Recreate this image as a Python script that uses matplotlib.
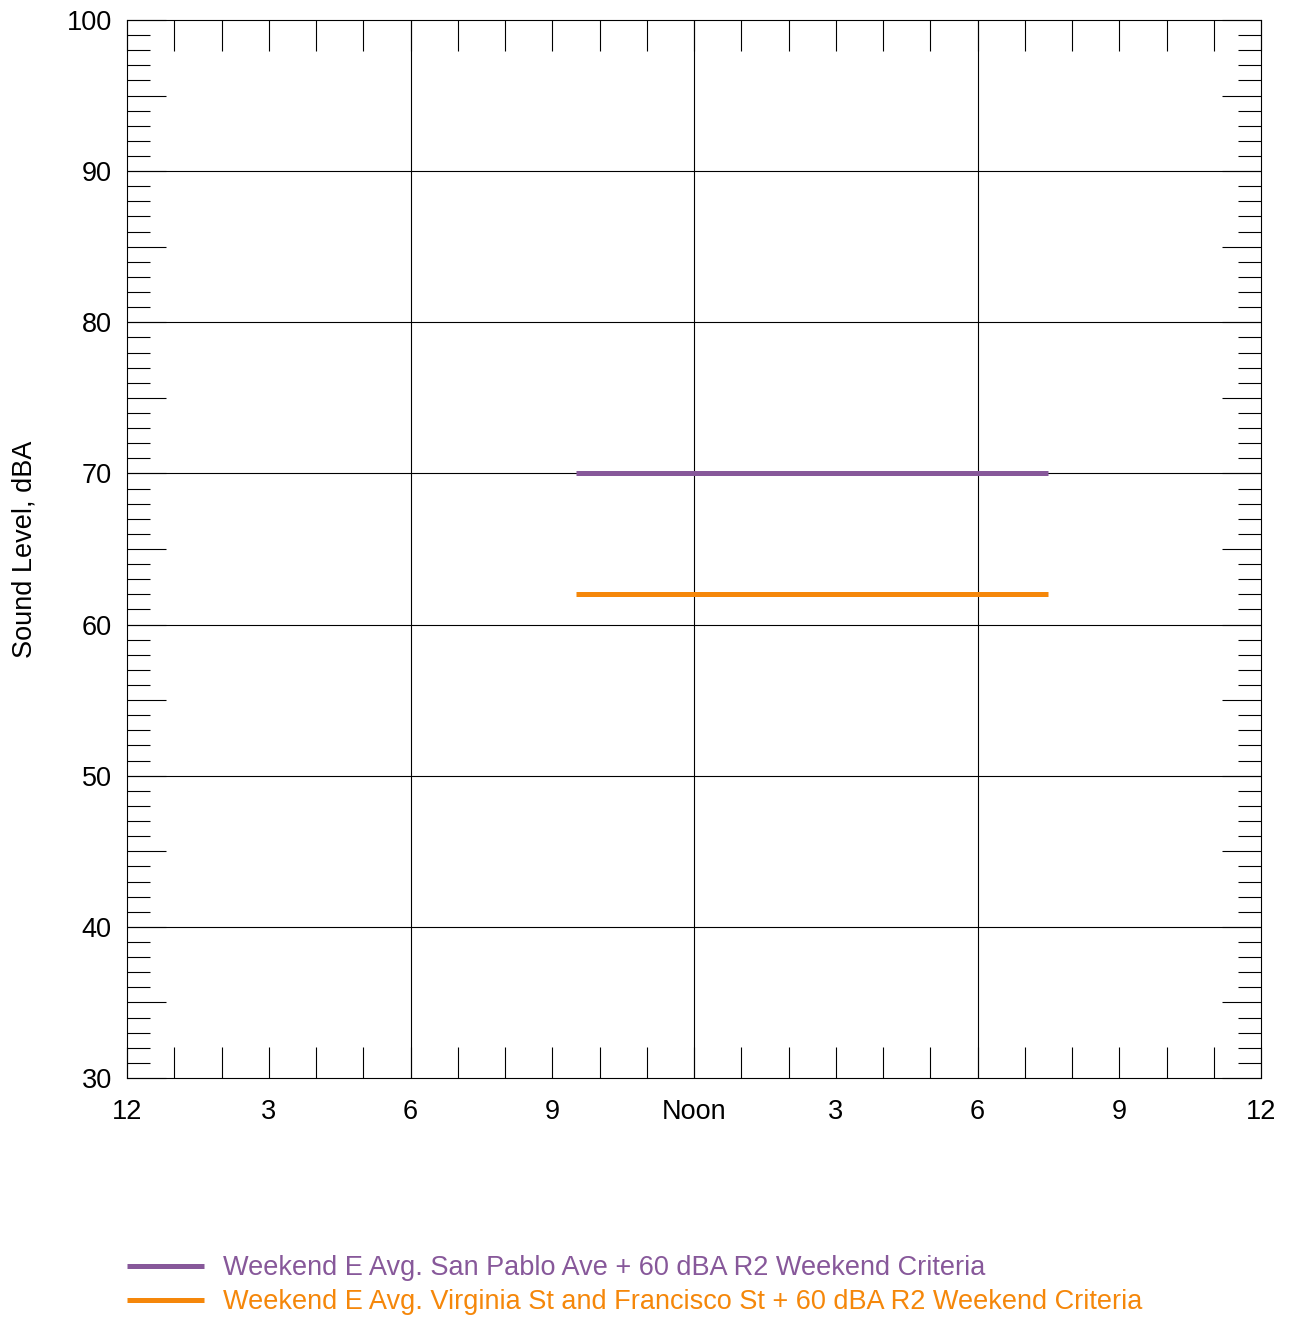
import numpy as np
import matplotlib.pyplot as plt
from matplotlib.ticker import MultipleLocator, FuncFormatter

plt.rcParams['font.family'] = ['Liberation Sans', 'DejaVu Sans']

hours = [9.5, 19.5]
san_pablo = [70, 70]
virginia = [62, 62]
labels = ['Weekend E Avg. San Pablo Ave + 60 dBA R2 Weekend Criteria',
          'Weekend E Avg. Virginia St and Francisco St + 60 dBA R2 Weekend Criteria']
colors = ['#87589A', '#F5870A']
x_ticklabels = ['12', '3', '6', '9', 'Noon', '3', '6', '9', '12']

fig = plt.figure(figsize=(12.9, 13.18), dpi=100)
ax = fig.add_axes([127/1290, 1-1078/1318, (1261-127)/1290, (1078-20)/1318])

ax.set_xlim(0, 24)
ax.set_ylim(30, 100)

# grid by hand so the 5 dBA ticks do not get a line
for y in range(40, 100, 10):
    ax.axhline(y, color='black', lw=0.8, zorder=1)
for x in [6, 12, 18]:
    ax.axvline(x, color='black', lw=0.8, zorder=1)

l1, = ax.plot(hours, san_pablo, color=colors[0], lw=3.6, label=labels[0],
              solid_capstyle='butt', zorder=3)
l2, = ax.plot(hours, virginia, color=colors[1], lw=3.6, label=labels[1],
              solid_capstyle='butt', zorder=3)

ax.xaxis.set_major_locator(MultipleLocator(3))
ax.xaxis.set_minor_locator(MultipleLocator(1))
ax.xaxis.set_major_formatter(FuncFormatter(
    lambda v, p: x_ticklabels[int(round(v / 3))] if 0 <= round(v / 3) < len(x_ticklabels) else ''))

ax.yaxis.set_major_locator(MultipleLocator(5))
ax.yaxis.set_minor_locator(MultipleLocator(1))
ax.yaxis.set_major_formatter(FuncFormatter(lambda v, p: '%d' % v if int(round(v)) % 10 == 0 else ''))

ax.tick_params(axis='x', which='both', direction='in', length=22, width=0.8, top=True, bottom=True,
               labelsize=19.5, pad=15, color='black')
ax.tick_params(axis='y', which='major', direction='in', length=28, width=0.8, left=True, right=True,
               labelsize=19.5, pad=11)
ax.tick_params(axis='y', which='minor', direction='in', length=16.5, width=0.8, left=True, right=True)

for s in ax.spines.values():
    s.set_linewidth(0.8)

ax.set_ylabel('Sound Level, dBA', fontsize=19.5)
ax.yaxis.set_label_coords(-90/1134, 0.5)

leg = fig.legend(handles=[l1, l2], loc='upper left', bbox_to_anchor=(127/1290, 1-1255/1318),
                 frameon=False, fontsize=19.5, handlelength=2.85, handletextpad=0.7,
                 labelspacing=0.3, borderpad=0, borderaxespad=0, labelcolor='linecolor')

fig.savefig('out.png', dpi=100)
